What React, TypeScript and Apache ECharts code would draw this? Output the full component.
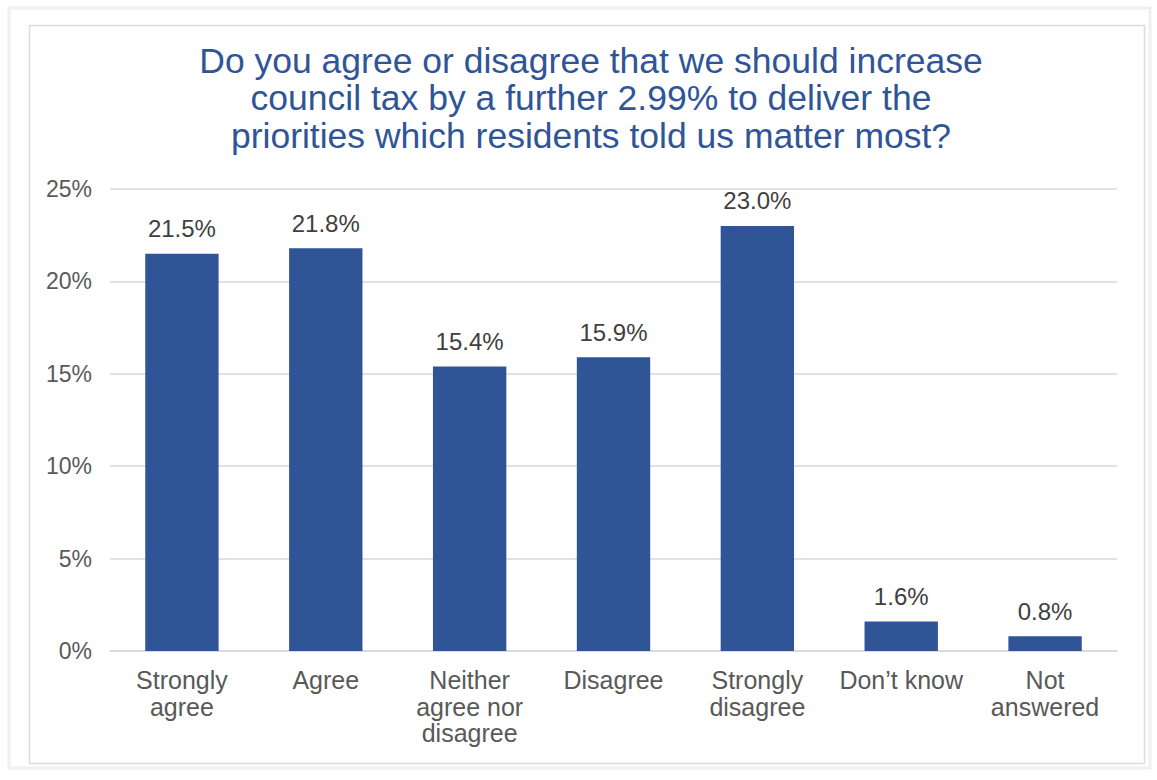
import React, { useEffect, useRef } from "react";
import * as echarts from "echarts";

const categories = [
  "Strongly\nagree",
  "Agree",
  "Neither\nagree nor\ndisagree",
  "Disagree",
  "Strongly\ndisagree",
  "Don’t know",
  "Not\nanswered",
];
const values = [21.5, 21.8, 15.4, 15.9, 23.0, 1.6, 0.8];
const titleText =
  "Do you agree or disagree that we should increase\ncouncil tax by a further 2.99% to deliver the\npriorities which residents told us matter most?";

export default function App() {
  const ref = useRef<HTMLDivElement>(null);
  useEffect(() => {
    document.body.style.margin = "0";
    const chart = echarts.init(ref.current!, null, { renderer: "svg" });
    const font = "'Liberation Sans', Arial, Helvetica, sans-serif";
    chart.setOption({
      animation: false,
      textStyle: { fontFamily: font },
      graphic: [
        {
          type: "rect",
          shape: { x: 9, y: 8, width: 1141, height: 760 },
          style: { fill: "none", stroke: "#f0f0f0", lineWidth: 3 },
          silent: true,
        },
        {
          type: "rect",
          shape: { x: 29.5, y: 25.5, width: 1115, height: 738 },
          style: { fill: "#fff", stroke: "#dcdcdc", lineWidth: 1.5 },
          silent: true,
          z: -10,
        },
      ],
      title: {
        text: titleText,
        left: 586,
        textAlign: "center",
        top: 37,
        textStyle: {
          fontFamily: font,
          fontSize: 35.5,
          fontWeight: "normal",
          color: "#2F5597",
          lineHeight: 37.5,
        },
      },
      grid: { left: 110, right: 40, top: 189, bottom: 129 },
      xAxis: {
        type: "category",
        data: categories,
        axisLine: { lineStyle: { color: "#d9d9d9", width: 1.5 } },
        axisTick: { show: false },
        axisLabel: {
          color: "#595959",
          fontSize: 25,
          lineHeight: 26.5,
          margin: 16,
          interval: 0,
          fontFamily: font,
        },
      },
      yAxis: {
        type: "value",
        min: 0,
        max: 25,
        interval: 5,
        axisLabel: {
          formatter: "{value}%",
          color: "#595959",
          fontSize: 23,
          margin: 18,
          fontFamily: font,
        },
        splitLine: { lineStyle: { color: "#d9d9d9", width: 1.5 } },
        axisLine: { show: false },
        axisTick: { show: false },
      },
      series: [
        {
          type: "bar",
          data: values,
          barWidth: "51%",
          itemStyle: { color: "#2F5597" },
          label: {
            show: true,
            position: "top",
            distance: 13,
            formatter: (p: any) => p.value.toFixed(1) + "%",
            color: "#404040",
            fontSize: 24,
            fontFamily: font,
          },
        },
      ],
    });
    return () => chart.dispose();
  }, []);
  return <div ref={ref} style={{ width: 1157, height: 780 }} />;
}
